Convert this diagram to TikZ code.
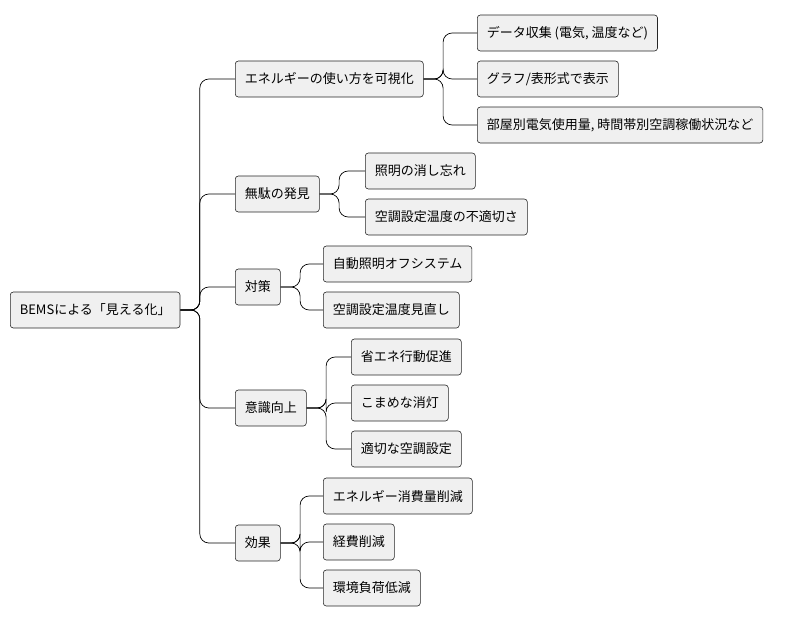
\documentclass[tikz,border=0pt]{standalone}
\usepackage{fontspec}
\setmainfont{Noto Sans CJK JP}
\begin{document}
\begin{tikzpicture}[x=1pt,y=-1pt,
  box/.style={draw=black!85,fill=black!6,rounded corners=3pt,line width=0.6pt,minimum height=36pt,inner xsep=9.5pt,anchor=west,font=\fontsize{13}{15}\selectfont},
  con/.style={draw=black,line width=0.7pt,rounded corners=9pt}]
\useasboundingbox (0,0) rectangle (797,622);
\node[box] (r) at (10,310) {BEMSによる「見える化」};
\node[box] (a) at (235,79) {エネルギーの使い方を可視化};
\node[box] (b) at (235,194) {無駄の発見};
\node[box] (c) at (235,287) {対策};
\node[box] (d) at (235,408) {意識向上};
\node[box] (e) at (235,543) {効果};
\node[box] (a1) at (477,33) {データ収集 (電気, 温度など)};
\node[box] (a2) at (477,79) {グラフ/表形式で表示};
\node[box] (a3) at (477,125) {部屋別電気使用量, 時間帯別空調稼働状況など};
\node[box] (b1) at (365,171) {照明の消し忘れ};
\node[box] (b2) at (365,217) {空調設定温度の不適切さ};
\node[box] (c1) at (323,264) {自動照明オフシステム};
\node[box] (c2) at (323,310) {空調設定温度見直し};
\node[box] (d1) at (351,357) {省エネ行動促進};
\node[box] (d2) at (351,403) {こまめな消灯};
\node[box] (d3) at (351,449) {適切な空調設定};
\node[box] (e1) at (323,496) {エネルギー消費量削減};
\node[box] (e2) at (323,542) {経費削減};
\node[box] (e3) at (323,588) {環境負荷低減};
\foreach \p/\cs in {r/{a,b,c,d,e},a/{a1,a2,a3},b/{b1,b2},c/{c1,c2},d/{d1,d2,d3},e/{e1,e2,e3}}{
  \foreach \c in \cs { \draw[con] (\p.east) -- ++(19.5,0) |- (\c.west); }
}
\end{tikzpicture}
\end{document}
